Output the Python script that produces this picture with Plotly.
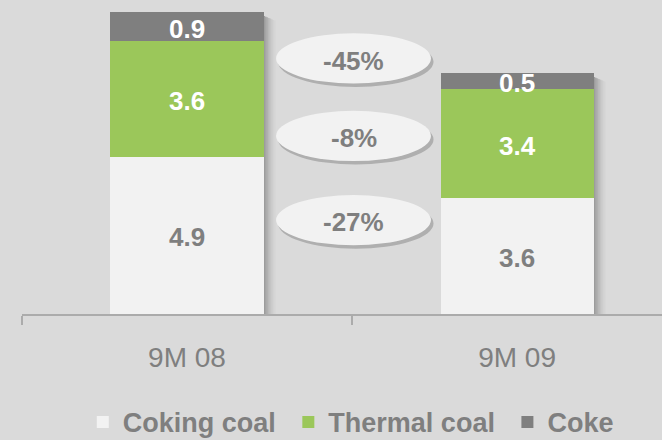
import plotly.graph_objects as go

# ---------------------------------------------------------------
# Data
# ---------------------------------------------------------------
periods = ["9M 08", "9M 09"]
coking_coal = [4.9, 3.6]
thermal_coal = [3.6, 3.4]
coke = [0.9, 0.5]
# change labels, top to bottom: coke, thermal coal, coking coal
changes = ["-45%", "-8%", "-27%"]

# ---------------------------------------------------------------
# Palette
# ---------------------------------------------------------------
pal = {
    "bg": "#dadada",
    "white": "#f2f2f2",
    "green": "#9bc75a",
    "grey": "#7f7f7f",
    "axis": "#ababab",
    "text": "#7f7f7f",
}
FONT = "Arial, Liberation Sans, sans-serif"
BAR_W = 0.464
NBSP = "\u00a0"  # keeps a little extra room after each legend entry

fig = go.Figure()
series = [
    ("Coking coal", coking_coal, pal["white"], pal["text"]),
    ("Thermal coal", thermal_coal, pal["green"], "white"),
    ("Coke", coke, pal["grey"], "white"),
]
for name, vals, col, _ in series:
    fig.add_trace(
        go.Bar(
            x=periods,
            y=vals,
            name=name + NBSP,
            marker=dict(color=col, line=dict(width=0)),
            width=BAR_W,
            hoverinfo="x+y",
        )
    )

# Value labels in the middle of each segment
for i in range(len(periods)):
    base = 0
    for name, vals, col, tcol in series:
        v = vals[i]
        fig.add_annotation(
            x=i, y=base + v / 2, xref="x", yref="y",
            text=f"{v:.1f}", showarrow=False, yshift=-2,
            font=dict(family=FONT, size=26, color=tcol, weight="bold"),
        )
        base += v

# Soft shadow on the right side of each bar
shadow_alpha = [0.45, 0.38, 0.3, 0.23, 0.16, 0.1, 0.06, 0.03]
step = 1.5 / 330
for i in range(len(periods)):
    total = coking_coal[i] + thermal_coal[i] + coke[i]
    x_edge = i + BAR_W / 2
    for k, a in enumerate(shadow_alpha):
        fig.add_shape(
            type="rect", xref="x", yref="y",
            x0=x_edge + k * step, x1=x_edge + (k + 1) * step,
            y0=0, y1=total - 0.12 - 0.02 * k,
            fillcolor=f"rgba(80,80,80,{a})", line_width=0, layer="below",
        )

# Ellipses with change labels (paper coords; plot area 22..662 x 0..314 px)
ell_cx = 0.518
ell_hw = 0.121
ell_hh = 0.080
ell_cy = [0.814, 0.567, 0.299]
txt_cy = [0.806, 0.561, 0.293]
for cy, ty, lab in zip(ell_cy, txt_cy, changes):
    fig.add_shape(
        type="circle", xref="paper", yref="paper",
        x0=ell_cx - ell_hw + 0.003, x1=ell_cx + ell_hw + 0.004,
        y0=cy - ell_hh - 0.011, y1=cy + ell_hh - 0.011,
        fillcolor="rgba(110,110,110,0.4)", line_width=0,
    )
    fig.add_shape(
        type="circle", xref="paper", yref="paper",
        x0=ell_cx - ell_hw, x1=ell_cx + ell_hw,
        y0=cy - ell_hh, y1=cy + ell_hh,
        fillcolor=pal["white"], line_width=0,
    )
    fig.add_annotation(
        x=ell_cx, y=ty, xref="paper", yref="paper",
        xanchor="center", yanchor="middle",
        text=lab, showarrow=False,
        font=dict(family=FONT, size=26, color=pal["text"], weight="bold"),
    )

fig.update_layout(
    barmode="stack",
    width=662,
    height=440,
    margin=dict(l=22, r=0, t=0, b=126, autoexpand=False),
    paper_bgcolor=pal["bg"],
    plot_bgcolor=pal["bg"],
    bargap=0,
    showlegend=True,
    legend=dict(
        orientation="h",
        x=0.095, xanchor="left",
        y=-0.345, yanchor="middle",
        traceorder="normal",
        font=dict(family=FONT, size=27, color=pal["text"], weight="bold"),
        bgcolor="rgba(0,0,0,0)",
    ),
    xaxis=dict(
        type="category",
        range=[-0.5, 1.439],
        showline=True,
        linecolor=pal["axis"],
        linewidth=2,
        ticks="outside",
        tickson="boundaries",
        ticklen=9,
        tickcolor=pal["axis"],
        tickwidth=2,
        ticklabelstandoff=17,
        tickfont=dict(family=FONT, size=28, color=pal["text"]),
        showgrid=False,
        zeroline=False,
    ),
    yaxis=dict(
        range=[0, 9.78],
        visible=False,
        showgrid=False,
        zeroline=False,
    ),
)

fig.write_html(
    "out.html",
    config={"displayModeBar": False},
    post_script="document.body.style.margin='0px';",
)
